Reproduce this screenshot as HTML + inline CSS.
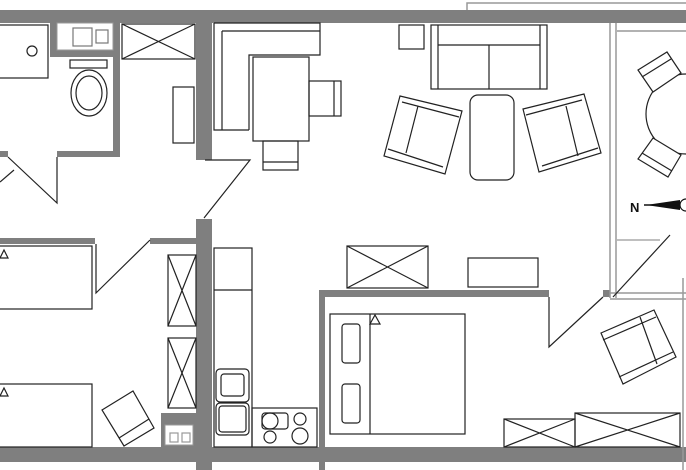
<!DOCTYPE html>
<html><head><meta charset="utf-8"><style>
html,body{margin:0;padding:0;background:#fff;}
svg{display:block;}
</style></head><body>
<svg width="686" height="470" viewBox="0 0 686 470" xmlns="http://www.w3.org/2000/svg">
<g fill="#7f7f7f" stroke="none">
<!-- top wall -->
<rect x="0" y="10" width="686" height="13"/>
<!-- bathroom walls -->
<rect x="50" y="23" width="7" height="34"/>
<rect x="50" y="50" width="68" height="7"/>
<rect x="113" y="23" width="7" height="134"/>
<rect x="57" y="151" width="63" height="6"/>
<rect x="0" y="151" width="8" height="6"/>
<!-- main vertical wall -->
<rect x="196" y="23" width="16" height="137"/>
<rect x="196" y="219" width="16" height="251"/>
<!-- bedroom1 top walls -->
<rect x="0" y="238" width="95" height="6"/>
<rect x="150" y="238" width="46" height="6"/>
<!-- bottom wall -->
<rect x="0" y="447" width="686" height="15"/>
<!-- bedroom2 walls -->
<rect x="319" y="292" width="6" height="178"/>
<rect x="319" y="290" width="230" height="7"/>
<rect x="603" y="290" width="7" height="7"/>
<rect x="161" y="413" width="35" height="34"/>
</g>
<!-- thin lines walls -->
<g fill="none" stroke="#999" stroke-width="1.5">
<path d="M467 10 V3 H686"/>
<path d="M610 23 V298 M616 23 V298"/>
<path d="M610 293 H686 M610 299 H686"/>
<path d="M683 278 V470"/>
<path d="M617 31 H686"/>
</g>
<g fill="#fff" stroke="#999" stroke-width="1">
<rect x="57" y="23" width="56" height="27"/>
<rect x="165" y="425" width="28" height="20"/>
</g>
<g fill="none" stroke="#222" stroke-width="1.2">
<!-- shower -->
<rect x="-2" y="25" width="50" height="53"/>
<circle cx="32" cy="51" r="5"/>
<!-- sink -->
<rect x="73" y="28" width="19" height="18" stroke="#777"/>
<rect x="96" y="30" width="12" height="13" stroke="#777"/>
<!-- toilet -->
<rect x="70" y="60" width="37" height="8"/>
<ellipse cx="89" cy="93" rx="18" ry="23"/>
<ellipse cx="89" cy="93" rx="13" ry="17"/>
<!-- bath door -->
<path d="M8 157 L57 203 V157"/>
<path d="M0 182 L14 170"/>
<!-- wardrobe top -->
<rect x="122" y="24" width="73" height="35"/>
<path d="M122 24 L195 59 M195 24 L122 59"/>
<rect x="173" y="87" width="21" height="56"/>
<!-- living door -->
<path d="M205 160 H250 L204 218"/>
<!-- kitchen L bench -->
<path d="M214 23 V130 H249 M222 31 V130 M222 31 H320 M214 23 H320 V55 H249 V130"/>
<rect x="253" y="57" width="56" height="84"/>
<rect x="309" y="81" width="32" height="35"/>
<path d="M334 81 V116"/>
<rect x="263" y="141" width="35" height="29"/>
<path d="M263 162 H298"/>
<!-- living -->
<rect x="399" y="25" width="25" height="24"/>
<rect x="431" y="25" width="116" height="64"/>
<path d="M438 25 V89 M540 25 V89 M438 45 H540 M489 45 V89"/>
<polygon points="400,96 462,111 445,174 384,156"/>
<path d="M402 102 L459 117 M388 149 L443 167 M418 106 L406 153"/>
<rect x="470" y="95" width="44" height="85" rx="8"/>
<polygon points="523,109 584,94 601,153 539,172"/>
<path d="M526 115 L582 100 M542 166 L598 148 M566 106 L578 156"/>
<!-- balcony table -->
<circle cx="686" cy="114" r="40"/>
<polygon points="638,70 667,52 681,73 653,92" fill="#fff"/>
<path d="M642 77 L671 59"/>
<polygon points="638,159 653,138 681,155 668,177" fill="#fff"/>
<path d="M642 153 L672 171"/>
<!-- balcony door -->
<path d="M613 297 L670 235"/>
<path d="M617 240 H660" stroke="#999"/>
<!-- bedroom1 -->
<rect x="-2" y="246" width="94" height="63"/>
<path d="M0 258 L4 250 L8 258 Z"/>
<path d="M96 244 V293 L150 240"/>
<rect x="-2" y="384" width="94" height="63"/>
<path d="M0 396 L4 388 L8 396 Z"/>
<rect x="168" y="255" width="28" height="71"/>
<path d="M168 255 L196 326 M196 255 L168 326"/>
<rect x="168" y="338" width="28" height="70"/>
<path d="M168 338 L196 408 M196 338 L168 408"/>
<polygon points="102,410 133,391 154,428 124,446"/>
<path d="M119 438 L149 419"/>
<rect x="170" y="433" width="8" height="9" stroke="#999"/>
<rect x="182" y="433" width="8" height="9" stroke="#999"/>
<!-- kitchen -->
<rect x="214" y="248" width="38" height="199"/>
<path d="M214 290 H252"/>
<rect x="216" y="369" width="33" height="33" rx="4"/>
<rect x="221" y="374" width="23" height="22" rx="3"/>
<rect x="216" y="403" width="33" height="32" rx="4"/>
<rect x="219" y="406" width="27" height="26" rx="3"/>
<rect x="252" y="408" width="65" height="39"/>
<rect x="262" y="413" width="26" height="16" rx="3"/>
<circle cx="270" cy="421" r="8"/>
<circle cx="300" cy="419" r="6"/>
<circle cx="270" cy="437" r="6"/>
<circle cx="300" cy="436" r="8"/>
<!-- hallway -->
<rect x="347" y="246" width="81" height="42"/>
<path d="M347 246 L428 288 M428 246 L347 288"/>
<rect x="468" y="258" width="70" height="29"/>
<path d="M549 297 V347 L603 297"/>
<!-- bedroom2 -->
<rect x="330" y="314" width="135" height="120"/>
<rect x="342" y="324" width="18" height="39" rx="3"/>
<rect x="342" y="384" width="18" height="39" rx="3"/>
<path d="M370 314 V434"/>
<path d="M370 324 L375 315 L380 324 Z"/>
<polygon points="601,333 654,310 676,357 623,384"/>
<path d="M603 340 L656 317 M619 377 L673 352 M640 317 L657 364"/>
<rect x="504" y="419" width="71" height="28"/>
<path d="M504 419 L575 447 M575 419 L504 447"/>
<rect x="575" y="413" width="105" height="34"/>
<path d="M575 413 L680 447 M680 413 L575 447"/>
</g>
<!-- north arrow -->
<text x="630" y="212" font-family="Liberation Sans, sans-serif" font-weight="bold" font-size="13" fill="#111">N</text>
<path d="M646 205 L680 200 L680 210 Z" fill="#111"/>
<path d="M644 205 H680" stroke="#111" stroke-width="1.5"/>
<circle cx="686" cy="205" r="6" fill="#fff" stroke="#111" stroke-width="1.2"/>
</svg>
</body></html>
